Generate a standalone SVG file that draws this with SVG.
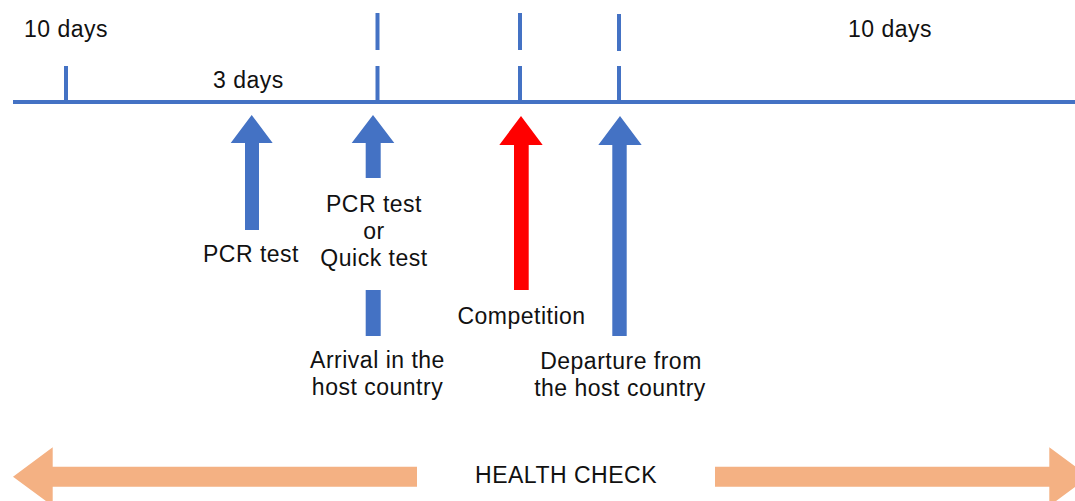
<svg xmlns="http://www.w3.org/2000/svg" width="1075" height="501" viewBox="0 0 1075 501">
  <style>
    .lbl { font-family: "Liberation Sans", Arial, sans-serif; font-size: 23px; letter-spacing: 0.5px; fill: #111; }
    .mid { text-anchor: middle; }
    .axis { stroke: #4472C4; stroke-width: 4; fill: none; }
    .blue { fill: #4472C4; }
    .red { fill: #FF0000; }
    .peach { fill: #F4B183; }
  </style>

  <!-- timeline axis with ticks -->
  <g id="connectors">
    <line class="axis" x1="13" y1="102" x2="1075" y2="102"/>
    <line class="axis" x1="66" y1="66" x2="66" y2="102"/>
    <line class="axis" x1="377.5" y1="13" x2="377.5" y2="50"/>
    <line class="axis" x1="377.5" y1="66" x2="377.5" y2="102"/>
    <line class="axis" x1="520" y1="13" x2="520" y2="50"/>
    <line class="axis" x1="520" y1="66" x2="520" y2="102"/>
    <line class="axis" x1="619" y1="14" x2="619" y2="51"/>
    <line class="axis" x1="619" y1="66" x2="619" y2="102"/>
  </g>

  <!-- interval labels -->
  <g id="label-10-days-left"><text class="lbl" x="24" y="37">10 days</text></g>
  <g id="label-3-days"><text class="lbl" x="213" y="88">3 days</text></g>
  <g id="label-10-days-right"><text class="lbl" x="848" y="37">10 days</text></g>

  <!-- PCR test before arrival -->
  <g id="pcr-test">
    <polygon class="blue" points="251.7,115 272.7,143 259,143 259,230 245,230 245,143 230.7,143"/>
    <text class="lbl mid" x="251" y="262">PCR test</text>
  </g>

  <!-- test on arrival -->
  <g id="arrival">
    <polygon class="blue" points="373,115 394.3,143 380.7,143 380.7,178 365.7,178 365.7,143 351.7,143"/>
    <text class="lbl mid" x="374" y="211.5">PCR test</text>
    <text class="lbl mid" x="374" y="238.5">or</text>
    <text class="lbl mid" x="374" y="265.5">Quick test</text>
    <rect class="blue" x="365.7" y="290" width="15" height="46"/>
    <text class="lbl mid" x="377.5" y="368">Arrival in the</text>
    <text class="lbl mid" x="377.5" y="395">host country</text>
  </g>

  <!-- competition -->
  <g id="competition">
    <polygon class="red" points="521,116 542.7,145 528.7,145 528.7,290 514,290 514,145 499.3,145"/>
    <text class="lbl mid" x="521.5" y="324">Competition</text>
  </g>

  <!-- departure -->
  <g id="departure">
    <polygon class="blue" points="620,116 641.7,145 626.7,145 626.7,336 612.3,336 612.3,145 598.3,145"/>
    <text class="lbl mid" x="621" y="369">Departure from</text>
    <text class="lbl mid" x="620" y="396">the host country</text>
  </g>

  <!-- health check span -->
  <g id="health-check">
    <polygon class="peach" points="13,476.7 52.7,447.3 52.7,466.7 417,466.7 417,486.7 52.7,486.7 52.7,506"/>
    <text class="lbl mid" x="566" y="483">HEALTH CHECK</text>
    <polygon class="peach" points="715,466.7 1049.3,466.7 1049.3,447.3 1089,476.7 1049.3,506 1049.3,486.7 715,486.7"/>
  </g>
</svg>
